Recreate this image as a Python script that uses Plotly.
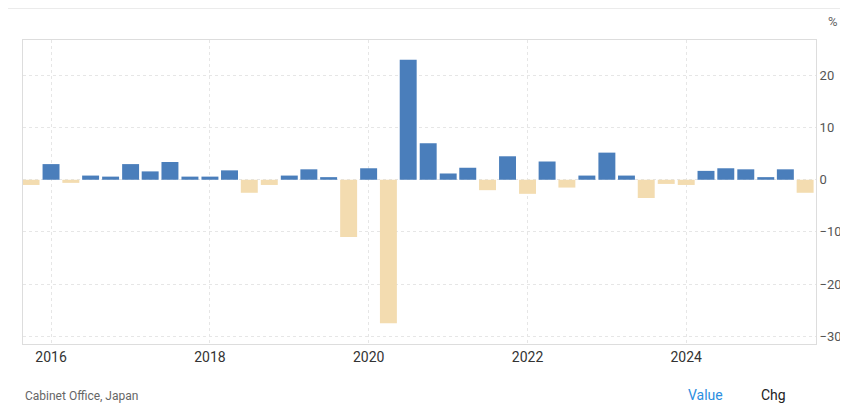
import pandas as pd
import plotly.graph_objects as go

quarters = pd.date_range('2015-10-01', periods=40, freq='QS')
values = [-1.0, 3.0, -0.6, 0.8, 0.6, 3.0, 1.6, 3.4, 0.6, 0.6,
          1.8, -2.5, -1.0, 0.8, 2.0, 0.5, -11.0, 2.2, -27.5, 23.0,
          7.0, 1.2, 2.3, -2.0, 4.5, -2.7, 3.5, -1.5, 0.8, 5.2,
          0.8, -3.5, -0.8, -1.0, 1.7, 2.2, 2.0, 0.5, 2.0, -2.5]
colors = ['#4a7ebb' if v >= 0 else '#f3dcb0' for v in values]

fig = go.Figure(go.Bar(x=quarters, y=values, marker_color=colors,
                       marker_line_width=0, width=1000*3600*24*78))

fig.update_layout(
    width=848, height=408, plot_bgcolor='white', paper_bgcolor='white',
    margin=dict(l=15, r=40, t=32, b=72), showlegend=False,
    font=dict(family='Roboto, Arial', color='#555'),
    shapes=[dict(type='line', xref='paper', yref='paper', x0=-0.02, x1=1.05,
                 y0=1.105, y1=1.105, line=dict(color='#ddd', width=1))],
    annotations=[
        dict(text='%', xref='paper', yref='paper', x=1.03, y=1.03, showarrow=False,
             xanchor='right', yanchor='bottom', font=dict(size=13, color='#666')),
        dict(text='Cabinet Office, Japan', xref='paper', yref='paper', x=0.0, y=-0.2,
             showarrow=False, xanchor='left', font=dict(size=12, color='#666')),
        dict(text='Value', xref='paper', yref='paper', x=0.885, y=-0.2,
             showarrow=False, font=dict(size=14, color='#2d8ee0')),
        dict(text='Chg', xref='paper', yref='paper', x=0.965, y=-0.2,
             showarrow=False, font=dict(size=14, color='#222')),
    ])
fig.update_xaxes(range=['2015-08-25', '2025-08-20'], tickformat='%Y', dtick='M24',
                 tick0='2016-01-01', showgrid=True, gridcolor='#e6e6e6', griddash='dot',
                 showline=True, linecolor='#ddd', mirror=True,
                 tickfont=dict(size=14, color='#333'), ticks='')
fig.update_yaxes(side='right', range=[-31.5, 26.8], tickvals=[-30, -20, -10, 0, 10, 20],
                 showgrid=True, gridcolor='#e6e6e6', griddash='dot', zeroline=False,
                 showline=True, linecolor='#ddd', mirror=True,
                 tickfont=dict(size=13, color='#555'))

fig.write_html('out.html')
